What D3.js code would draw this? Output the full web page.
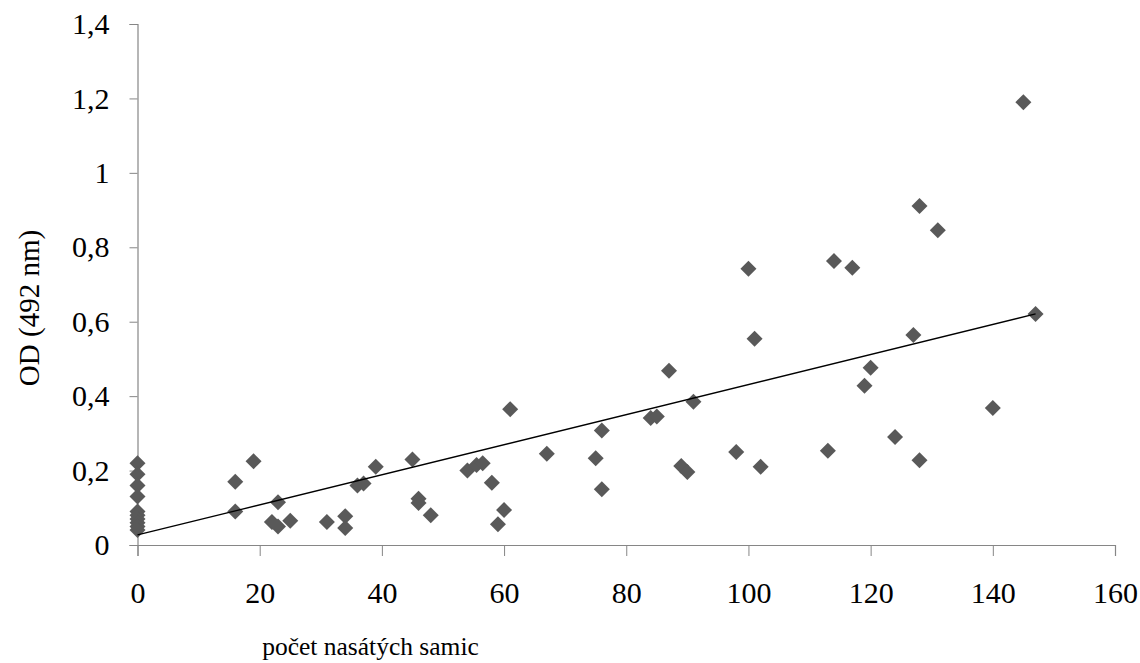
<!DOCTYPE html>
<html>
<head>
<meta charset="utf-8">
<script src="https://cdn.jsdelivr.net/npm/d3@7"></script>
<style>
  body { margin: 0; background: #fff; }
  svg text { font-family: "Liberation Serif", "Times New Roman", serif; fill: #000; }
</style>
</head>
<body>
<div id="chart"></div>
<script>
// values
var females = [0,0,0,0,0,0,0,0,0,0, 16,16,19,23,22,23,25,31,34,34,36,37,39,45,46,46,48,54,55.5,56.5,58,59,60,61,67,75,76,76,
    84,85,87,91,89,90,98,102,100,101,113,114,117,120,119,124,128,127,145,128,131,147,140];
var od = [0.22,0.19,0.16,0.13,0.09,0.08,0.07,0.06,0.05,0.04, 0.17,0.09,0.225,0.115,0.062,0.05,0.065,0.062,0.077,0.046,0.16,0.165,0.21,0.23,0.124,0.113,0.08,0.2,0.215,0.22,0.167,0.056,0.094,0.365,0.245,0.233,0.308,0.15,
    0.341,0.345,0.468,0.385,0.212,0.196,0.25,0.21,0.742,0.554,0.253,0.763,0.745,0.476,0.428,0.29,0.228,0.564,1.19,0.911,0.846,0.621,0.368];
var xTicks = [0,20,40,60,80,100,120,140,160];
var yTicks = [0,0.2,0.4,0.6,0.8,1,1.2,1.4];
var trendIntercept = 0.027;
var trendSlope = 0.00404;
var trendRange = [0, 147];

var width = 1140, height = 663;
var margin = {left: 137.5, right: 25, top: 24, bottom: 118};
var serif = '"Liberation Serif", "Times New Roman", serif';

var svg = d3.select("#chart").append("svg")
    .attr("width", width)
    .attr("height", height);

var x = d3.scaleLinear().domain([0, 160]).range([margin.left, width - margin.right]);
var y = d3.scaleLinear().domain([0, 1.4]).range([height - margin.bottom, margin.top]);

var fmt = function(d) { return String(d).replace(".", ","); };

// y axis
var yAxis = svg.append("g")
    .attr("transform", "translate(" + margin.left + ",0)")
    .call(d3.axisLeft(y).tickValues(yTicks).tickSize(8).tickFormat(fmt));
yAxis.attr("font-family", serif);
yAxis.select(".domain").attr("stroke", "#868686").attr("stroke-width", 1.2);
yAxis.selectAll(".tick line").attr("stroke", "#868686");
yAxis.selectAll(".tick text")
    .attr("x", -28)
    .style("font-size", "30px");

// x axis
var xAxis = svg.append("g")
    .attr("transform", "translate(0," + y(0) + ")")
    .call(d3.axisBottom(x).tickValues(xTicks).tickSize(11).tickFormat(d3.format("d")));
xAxis.attr("font-family", serif);
xAxis.select(".domain").attr("stroke", "#868686").attr("stroke-width", 1.2);
xAxis.selectAll(".tick line").attr("stroke", "#868686");
xAxis.selectAll(".tick text")
    .attr("y", 58)
    .attr("dy", 0)
    .style("font-size", "30px");

// points
var points = females.map(function(d, i) { return {f: d, v: od[i]}; });
var diamond = d3.symbol().type(d3.symbolSquare).size(128);
svg.append("g").selectAll("path")
    .data(points)
    .enter()
    .append("path")
    .attr("d", diamond)
    .attr("transform", function(d) { return "translate(" + x(d.f) + "," + y(d.v) + ") rotate(45)"; })
    .attr("fill", "#595959");

// trend line
svg.append("line")
    .attr("x1", x(trendRange[0]))
    .attr("y1", y(trendIntercept + trendSlope * trendRange[0]))
    .attr("x2", x(trendRange[1]))
    .attr("y2", y(trendIntercept + trendSlope * trendRange[1]))
    .attr("stroke", "#000")
    .attr("stroke-width", 1.3);

// axis titles
svg.append("text")
    .attr("x", 370.5)
    .attr("y", 655)
    .attr("text-anchor", "middle")
    .style("font-size", "25.5px")
    .text("počet nasátých samic");

svg.append("text")
    .attr("transform", "translate(39,308) rotate(-90)")
    .attr("text-anchor", "middle")
    .style("font-size", "29px")
    .text("OD (492 nm)");
</script>
</body>
</html>
